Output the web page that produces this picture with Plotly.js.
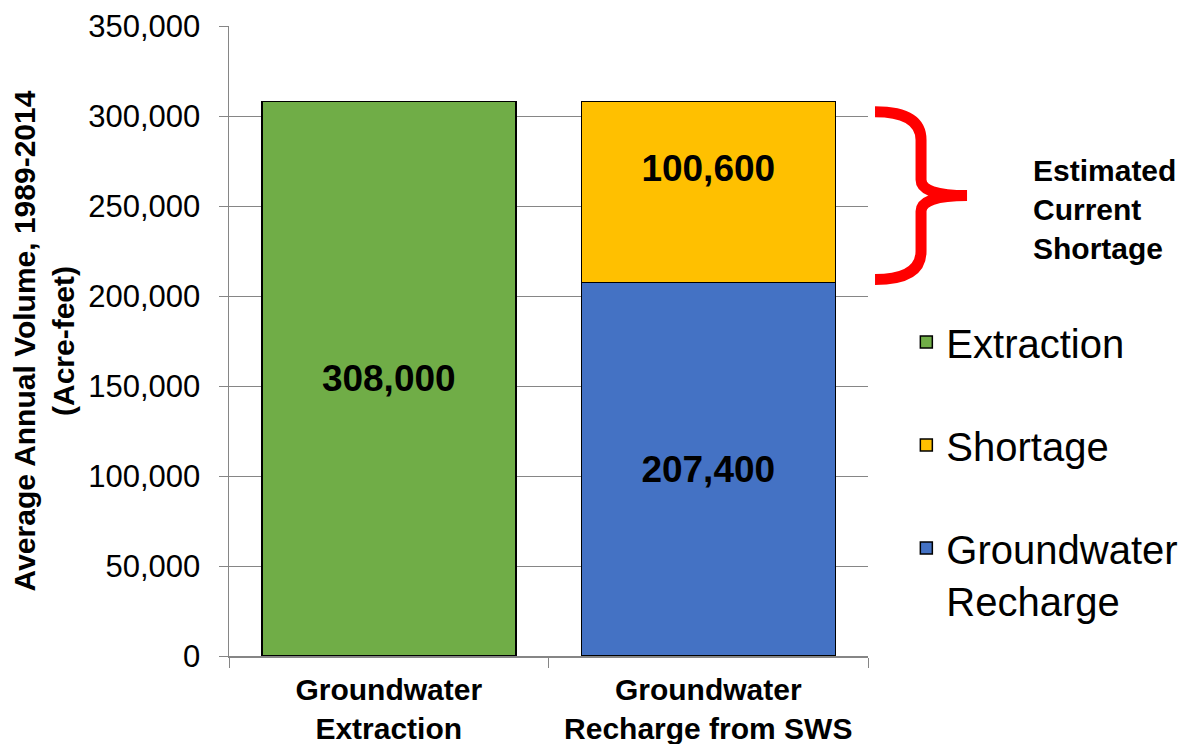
<!DOCTYPE html>
<html>
<head>
<meta charset="utf-8">
<script src="https://cdn.plot.ly/plotly-3.0.1.min.js"></script>
<style>
  html, body { margin: 0; padding: 0; background: #fff; }
  #chart { width: 1197px; height: 744px; }
</style>
</head>
<body>
<div id="chart"></div>
<script>
// ---- data ----
const categories = ["Groundwater<br>Extraction", "Groundwater<br>Recharge from SWS"];
const extraction = [308000];
const recharge = [207400];
const shortage = [100600];
const seriesNames = ["Extraction", "Shortage", "Groundwater<br>Recharge"];
const yTickVals = [0, 50000, 100000, 150000, 200000, 250000, 300000, 350000];
const yTitle = "Average Annual Volume, 1989-2014<br>(Acre-feet)";
const braceLabel = "Estimated<br>Current<br>Shortage";

const colors = { extraction: "#70AD47", shortage: "#FFC000", recharge: "#4472C4" };
const FONT = "Liberation Sans, Arial, sans-serif";
const yMax = 350000;

const labelFont = { family: FONT, size: 37, color: "#000", weight: "bold" };
const barLine = { color: "#000", width: 1.5 };

const traces = [
  {
    type: "bar", name: seriesNames[0], x: [categories[0]], y: extraction,
    marker: { color: colors.extraction, line: barLine },
    texttemplate: "%{y:,.0f}", textposition: "inside", insidetextanchor: "middle",
    textfont: labelFont, legendgroup: "a", legendrank: 1, hoverinfo: "none"
  },
  {
    type: "bar", name: seriesNames[2], x: [categories[1]], y: recharge,
    marker: { color: colors.recharge, line: barLine },
    texttemplate: "%{y:,.0f}", textposition: "inside", insidetextanchor: "middle",
    textfont: labelFont, legendgroup: "c", legendrank: 3, hoverinfo: "none"
  },
  {
    type: "bar", name: seriesNames[1], x: [categories[1]], y: shortage,
    marker: { color: colors.shortage, line: barLine },
    texttemplate: "%{y:,.0f}<br> ", textposition: "inside", insidetextanchor: "middle",
    textfont: labelFont, legendgroup: "b", legendrank: 2, hoverinfo: "none"
  }
];

// brace spanning the shortage segment (paper coords)
const segTop = (recharge[0] + shortage[0]) / yMax;
const segBot = recharge[0] / yMax;
const yT = segTop - 0.016, yB = segBot + 0.005, yM = (yT + yB) / 2;
const r = 0.045, r2 = 0.025;
const x0 = 1.011, x1 = 1.083, x2 = 1.155;
const bracePath =
  `M ${x0},${yT} Q ${x1},${yT} ${x1},${yT - r} L ${x1},${yM + r2} ` +
  `Q ${x1},${yM} ${x2},${yM} Q ${x1},${yM} ${x1},${yM - r2} ` +
  `L ${x1},${yB + r} Q ${x1},${yB} ${x0},${yB}`;

const layout = {
  width: 1197, height: 744,
  margin: { l: 229, r: 329, t: 26, b: 88 },
  paper_bgcolor: "#fff", plot_bgcolor: "#fff",
  barmode: "stack", bargap: 0.205,
  font: { family: FONT, color: "#000" },
  showlegend: true,
  legend: {
    x: 1.06, y: 0.55, xanchor: "left", yanchor: "top",
    font: { family: FONT, size: 40, color: "#000" },
    traceorder: "grouped", tracegroupgap: 48, valign: "top",
    bgcolor: "rgba(0,0,0,0)", borderwidth: 0, itemclick: false, itemdoubleclick: false
  },
  xaxis: {
    type: "category",
    showline: true, linecolor: "#868686", linewidth: 1.5,
    ticks: "outside", tickson: "boundaries", ticklen: 10, tickcolor: "#868686",
    ticklabelstandoff: 6,
    tickfont: { family: FONT, size: 30, color: "#000", weight: "bold" },
    showgrid: false, zeroline: false, fixedrange: true
  },
  yaxis: {
    range: [0, yMax], tickvals: yTickVals, tickformat: ",",
    showline: true, linecolor: "#868686", linewidth: 1.5,
    ticks: "outside", ticklen: 9, tickcolor: "#868686",
    ticklabelstandoff: 12,
    tickfont: { family: FONT, size: 31, color: "#000" },
    showgrid: true, gridcolor: "#868686", gridwidth: 1,
    zeroline: false, fixedrange: true,
    title: { text: yTitle, font: { family: FONT, size: 30, color: "#000", weight: "bold" }, standoff: 4 }
  },
  shapes: [
    {
      type: "path", xref: "paper", yref: "paper", path: bracePath,
      line: { color: "#FF0000", width: 11 }, fillcolor: "rgba(0,0,0,0)", layer: "above"
    }
  ],
  annotations: [
    {
      xref: "paper", yref: "paper", x: 1.255, y: yM - 0.022,
      xanchor: "left", yanchor: "middle", align: "left",
      text: braceLabel, showarrow: false,
      font: { family: FONT, size: 30, color: "#000", weight: "bold" }
    }
  ]
};

Plotly.newPlot("chart", traces, layout, { displayModeBar: false, staticPlot: true });
</script>
</body>
</html>
